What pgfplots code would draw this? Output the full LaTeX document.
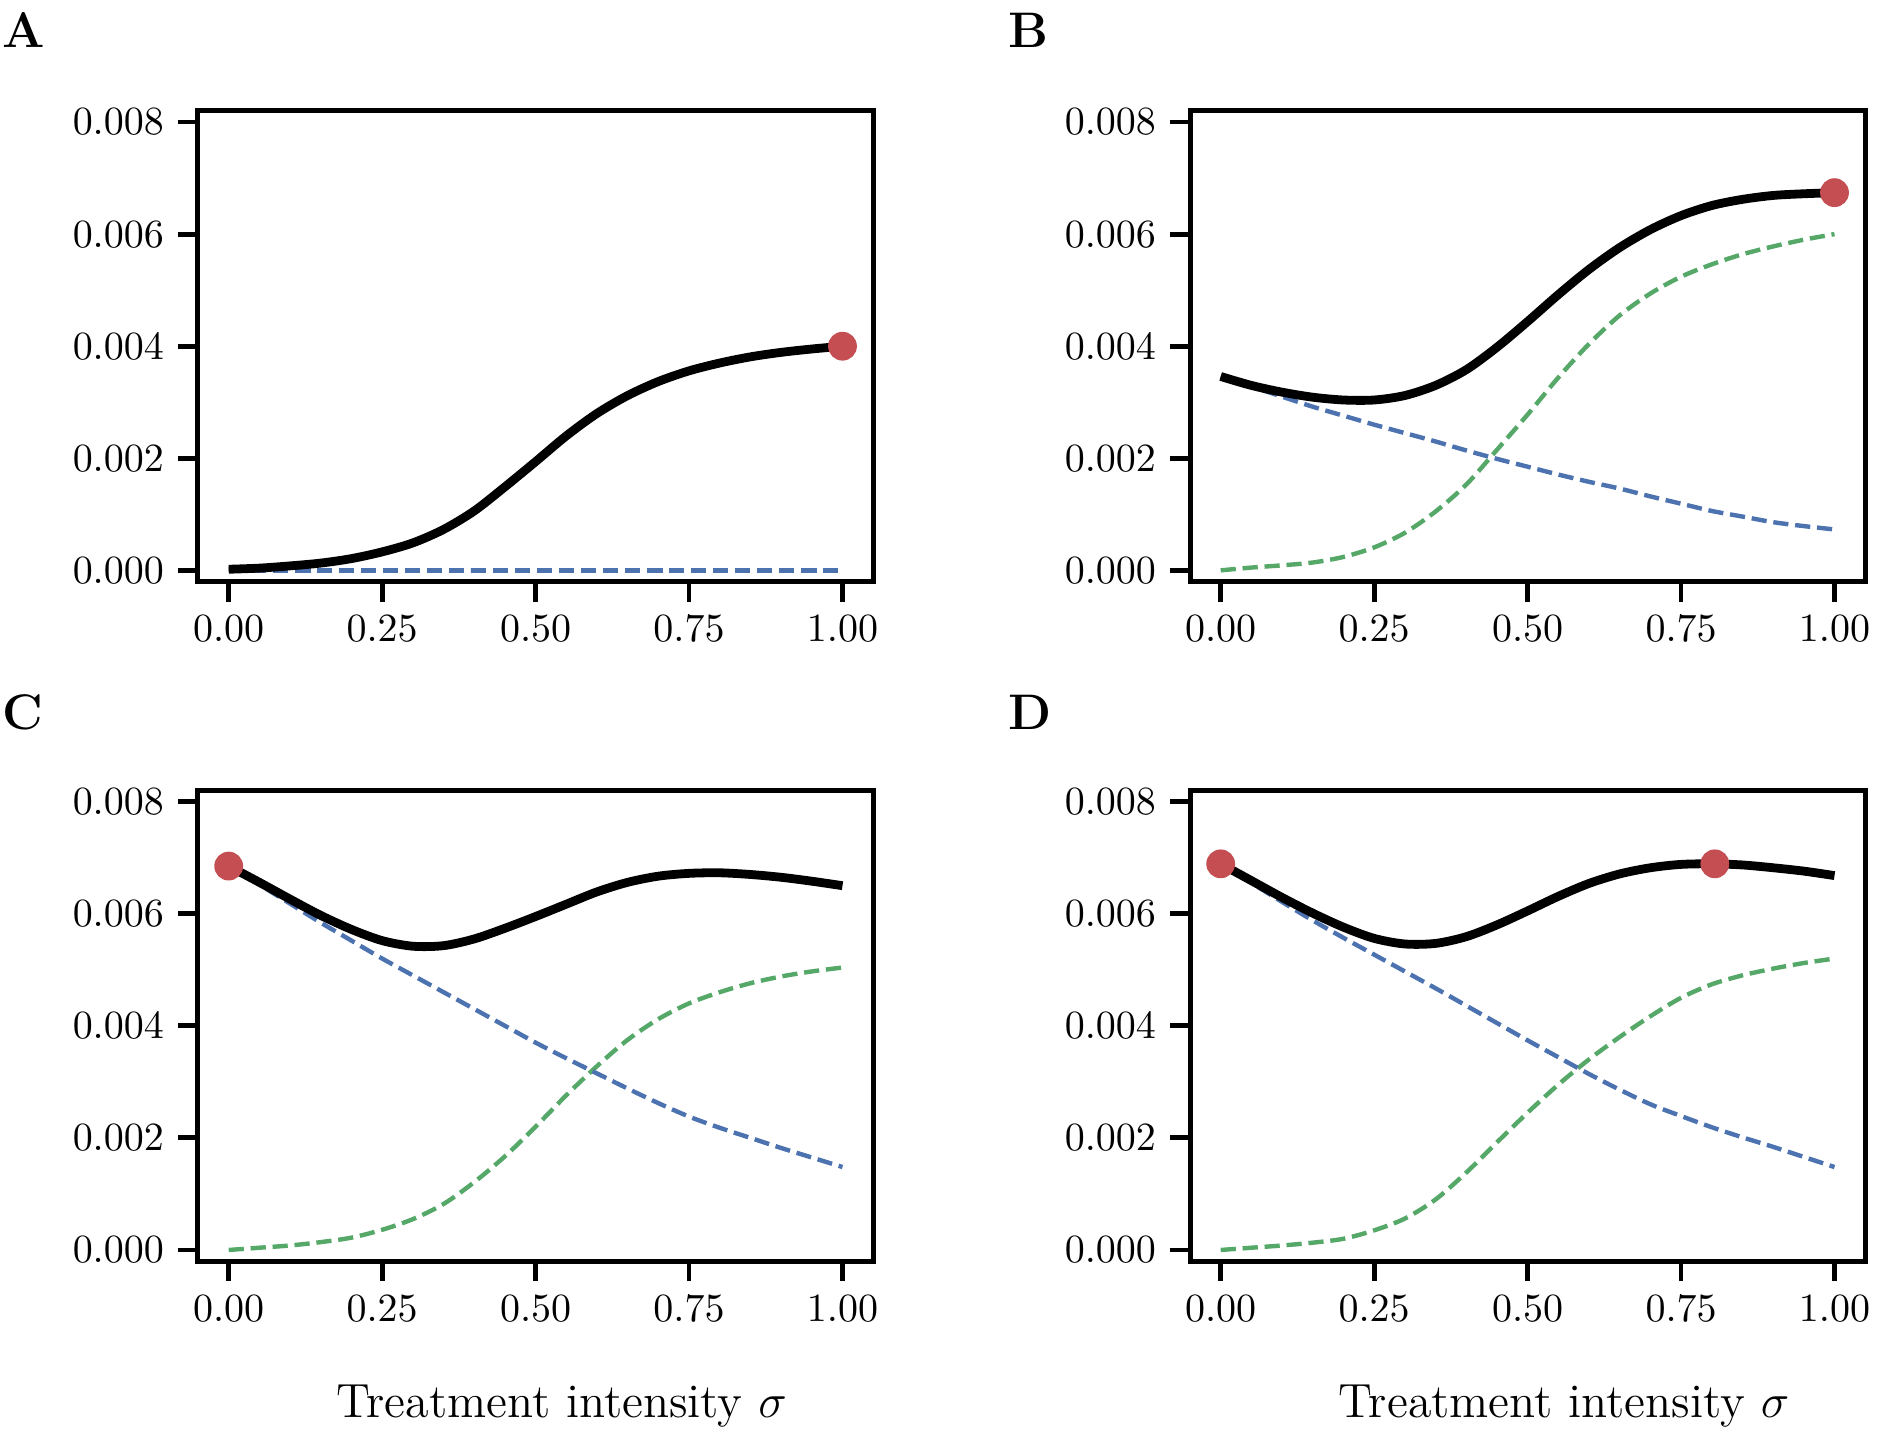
\documentclass[border=0pt]{standalone}
\usepackage{pgfplots}
\usepackage{pgfplotstable}
\pgfplotsset{compat=1.18}
\definecolor{sbblue}{RGB}{76,114,176}
\definecolor{sbgreen}{RGB}{85,168,104}
\definecolor{sbred}{RGB}{196,78,82}

\pgfplotstableread{
x     blue     green    black
0.00  0.00000  0.00002  0.00002
0.05  0.00000  0.00004  0.00004
0.10  0.00000  0.00008  0.00008
0.15  0.00000  0.00013  0.00013
0.20  0.00000  0.00021  0.00021
0.25  0.00000  0.00033  0.00033
0.30  0.00000  0.00049  0.00049
0.35  0.00000  0.00073  0.00073
0.40  0.00000  0.00106  0.00106
0.45  0.00000  0.00149  0.00149
0.50  0.00000  0.00194  0.00194
0.55  0.00000  0.00240  0.00240
0.60  0.00000  0.00280  0.00280
0.65  0.00000  0.00312  0.00312
0.70  0.00000  0.00337  0.00337
0.75  0.00000  0.00356  0.00356
0.80  0.00000  0.00370  0.00370
0.85  0.00000  0.00381  0.00381
0.90  0.00000  0.00389  0.00389
0.95  0.00000  0.00395  0.00395
1.00  0.00000  0.00400  0.00400
}\dataA

\pgfplotstableread{
x     blue     green    black
0.00  0.00346  0.00000  0.00346
0.05  0.00328  0.00005  0.00330
0.10  0.00310  0.00009  0.00318
0.15  0.00292  0.00014  0.00309
0.20  0.00276  0.00024  0.00304
0.25  0.00260  0.00041  0.00304
0.30  0.00245  0.00067  0.00312
0.35  0.00230  0.00105  0.00330
0.40  0.00214  0.00153  0.00358
0.45  0.00199  0.00215  0.00398
0.50  0.00185  0.00278  0.00444
0.55  0.00171  0.00344  0.00492
0.60  0.00158  0.00404  0.00537
0.65  0.00146  0.00455  0.00576
0.70  0.00132  0.00494  0.00608
0.75  0.00119  0.00524  0.00633
0.80  0.00106  0.00546  0.00651
0.85  0.00096  0.00564  0.00662
0.90  0.00086  0.00578  0.00669
0.95  0.00079  0.00590  0.00672
1.00  0.00073  0.00600  0.00674
}\dataB

\pgfplotstableread{
x     blue     green    black
0.00  0.00685  0.00000  0.00685
0.05  0.00652  0.00004  0.00656
0.10  0.00618  0.00008  0.00626
0.15  0.00584  0.00014  0.00597
0.20  0.00552  0.00022  0.00572
0.25  0.00520  0.00036  0.00552
0.30  0.00490  0.00055  0.00542
0.35  0.00460  0.00082  0.00543
0.40  0.00430  0.00121  0.00555
0.45  0.00400  0.00167  0.00574
0.50  0.00370  0.00220  0.00595
0.55  0.00342  0.00276  0.00617
0.60  0.00315  0.00328  0.00639
0.65  0.00288  0.00375  0.00656
0.70  0.00262  0.00412  0.00667
0.75  0.00238  0.00440  0.00672
0.80  0.00218  0.00460  0.00673
0.85  0.00200  0.00476  0.00670
0.90  0.00182  0.00488  0.00665
0.95  0.00165  0.00497  0.00658
1.00  0.00148  0.00504  0.00650
}\dataC

\pgfplotstableread{
x     blue     green    black
0.00  0.00689  0.00000  0.00689
0.05  0.00655  0.00004  0.00659
0.10  0.00621  0.00008  0.00629
0.15  0.00588  0.00013  0.00601
0.20  0.00557  0.00020  0.00576
0.25  0.00527  0.00035  0.00556
0.30  0.00497  0.00056  0.00546
0.35  0.00467  0.00090  0.00547
0.40  0.00436  0.00138  0.00559
0.45  0.00405  0.00192  0.00580
0.50  0.00374  0.00245  0.00605
0.55  0.00344  0.00295  0.00631
0.60  0.00314  0.00340  0.00654
0.65  0.00286  0.00380  0.00671
0.70  0.00260  0.00417  0.00682
0.75  0.00239  0.00450  0.00688
0.80  0.00219  0.00474  0.00689
0.85  0.00201  0.00490  0.00687
0.90  0.00184  0.00502  0.00682
0.95  0.00166  0.00512  0.00676
1.00  0.00148  0.00520  0.00668
}\dataD

\pgfplotsset{
  panel/.style={
    scale only axis,
    width=168.8pt, height=117.7pt,
    anchor=south west,
    xmin=-0.05, xmax=1.05,
    ymin=-0.0002, ymax=0.0082,
    xtick={0,0.25,0.5,0.75,1},
    ytick={0,0.002,0.004,0.006,0.008},
    scaled x ticks=false, scaled y ticks=false,
    xticklabel style={/pgf/number format/.cd, fixed, fixed zerofill, precision=2},
    yticklabel style={/pgf/number format/.cd, fixed, fixed zerofill, precision=3},
    tick label style={font=\fontsize{10}{12}\selectfont},
    tick align=outside,
    xtick pos=bottom, ytick pos=left,
    major tick length=5pt,
    every tick/.style={black, line width=1.2pt},
    axis line style={black, line width=1.25pt},
  },
  bluel/.style={sbblue, line width=1.1pt, dash pattern=on 3.8pt off 1.7pt, smooth},
  greenl/.style={sbgreen, line width=1.1pt, dash pattern=on 3.8pt off 1.7pt, smooth},
  blackl/.style={black, line width=2.2pt, smooth},
  dot/.style={only marks, mark=*, mark size=3.4pt, color=sbred},
}

\begin{document}
\begin{tikzpicture}
\useasboundingbox (0,0) rectangle (469.75pt,358.5pt);

\begin{axis}[panel, at={(49.5pt,213.1pt)}]
\addplot[greenl] table[x=x, y=green] {\dataA};
\addplot[bluel] table[x=x, y=blue] {\dataA};
\addplot[blackl] table[x=x, y=black] {\dataA};
\addplot[dot] coordinates {(1,0.00400)};
\end{axis}

\begin{axis}[panel, at={(297.5pt,213.1pt)}]
\addplot[greenl] table[x=x, y=green] {\dataB};
\addplot[bluel] table[x=x, y=blue] {\dataB};
\addplot[blackl] table[x=x, y=black] {\dataB};
\addplot[dot] coordinates {(1,0.00674)};
\end{axis}

\begin{axis}[panel, at={(49.5pt,43.2pt)}]
\addplot[greenl] table[x=x, y=green] {\dataC};
\addplot[bluel] table[x=x, y=blue] {\dataC};
\addplot[blackl] table[x=x, y=black] {\dataC};
\addplot[dot] coordinates {(0,0.00685)};
\end{axis}

\begin{axis}[panel, at={(297.5pt,43.2pt)}]
\addplot[greenl] table[x=x, y=green] {\dataD};
\addplot[bluel] table[x=x, y=blue] {\dataD};
\addplot[blackl] table[x=x, y=black] {\dataD};
\addplot[dot] coordinates {(0,0.00689) (0.805,0.00689)};
\end{axis}

\node[anchor=base west, inner sep=0pt, font=\bfseries\fontsize{12.5}{15}\selectfont] at (0.4pt,346.7pt) {A};
\node[anchor=base west, inner sep=0pt, font=\bfseries\fontsize{12.5}{15}\selectfont] at (251.9pt,346.7pt) {B};
\node[anchor=base west, inner sep=0pt, font=\bfseries\fontsize{12.5}{15}\selectfont] at (0.4pt,176.2pt) {C};
\node[anchor=base west, inner sep=0pt, font=\bfseries\fontsize{12.5}{15}\selectfont] at (251.9pt,176.2pt) {D};

\node[anchor=base, inner sep=0pt, font=\fontsize{12}{14}\selectfont] at (140.4pt,4pt) {Treatment intensity $\sigma$};
\node[anchor=base, inner sep=0pt, font=\fontsize{12}{14}\selectfont] at (391pt,4pt) {Treatment intensity $\sigma$};
\end{tikzpicture}
\end{document}
